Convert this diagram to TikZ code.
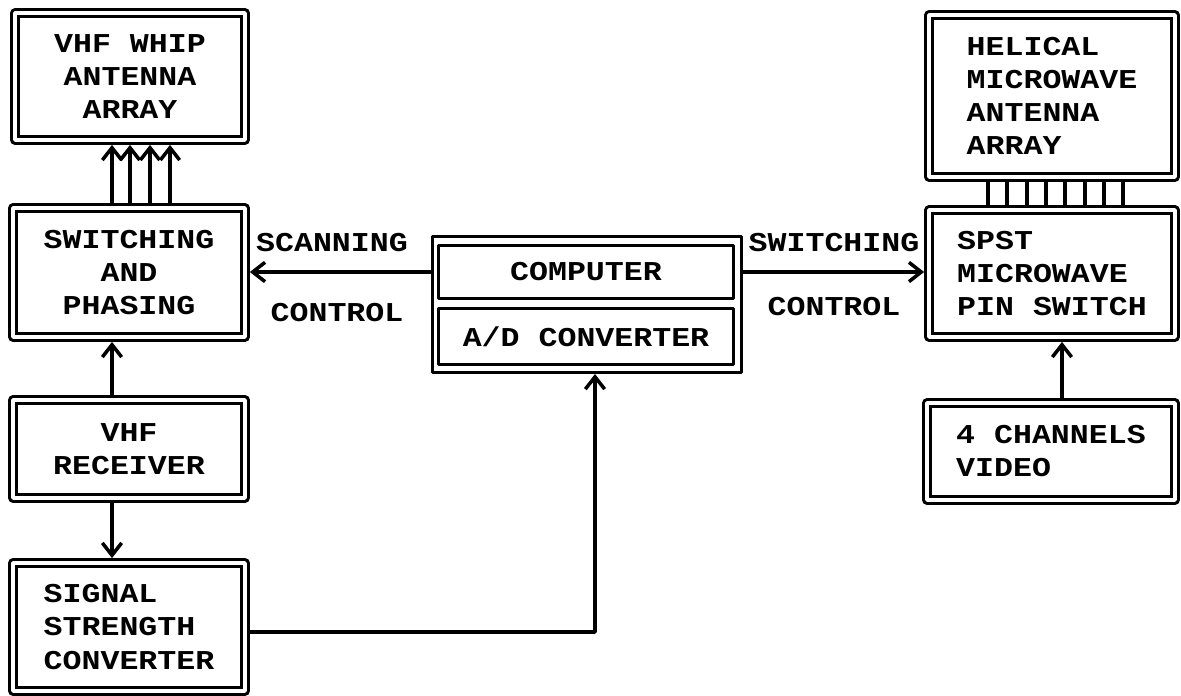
\documentclass[tikz,border=0pt]{standalone}
\usepackage{fontspec}
\setmonofont[FakeStretch=1.16]{Liberation Mono}
\usetikzlibrary{arrows.meta}
\tikzset{
  every picture/.style={line join=round, >={Straight Barb[length=7pt,width=11pt]}},
  every node/.style={font=\ttfamily\bfseries\fontsize{15.5}{18.8}\selectfont},
  box/.style={draw, double, line width=1.8pt, double distance=2pt, inner sep=0pt, outer sep=2.8pt, align=center},
  leftbox/.style={box, align=left},
  plainbox/.style={draw, line width=1.9pt, inner sep=0pt},
  conn/.style={line width=2pt},
}

\begin{document}
\begin{tikzpicture}[x=0.02cm,y=-0.02cm]
\useasboundingbox (0,0) rectangle (1181,696);
% left column
\node[box,minimum width=4.6cm,minimum height=2.54cm] (whip) at (130,76.5) {VHF WHIP\\ANTENNA\\ARRAY};
\node[box,minimum width=4.64cm,minimum height=2.58cm] (switching) at (129,272.5) {SWITCHING\\AND\\PHASING};
\node[box,minimum width=4.64cm,minimum height=1.96cm] (receiver) at (129,449) {VHF\\RECEIVER};
\node[leftbox,minimum width=4.64cm,minimum height=2.56cm] (signal) at (129,627) {SIGNAL\\STRENGTH\\CONVERTER};
% computer
\node[plainbox,minimum width=6.18cm,minimum height=2.72cm] (computer) at (587,304.5) {};
\node[plainbox,minimum width=5.9cm,minimum height=1.06cm] (cpu) at (586,272) {COMPUTER};
\node[plainbox,minimum width=5.9cm,minimum height=1.12cm] (adc) at (586,336.5) {A/D CONVERTER};
\coordinate (adin) at (595,374);
% right column
\node[leftbox,minimum width=4.92cm,minimum height=3.24cm] (helical) at (1052,96) {HELICAL\\MICROWAVE\\ANTENNA\\ARRAY};
\node[leftbox,minimum width=4.92cm,minimum height=2.54cm] (spst) at (1052,273.5) {SPST\\MICROWAVE\\PIN SWITCH};
\node[leftbox,minimum width=4.96cm,minimum height=1.94cm] (video) at (1051,451.5) {4 CHANNELS\\VIDEO};
% labels
\node (scanlbl) at (332,243) {SCANNING};
\node (scanctl) at (337,313) {CONTROL};
\node (switchlbl) at (834,243) {SWITCHING};
\node (switchctl) at (834,307) {CONTROL};
% connectors
\foreach \x in {112,130,150,170}
  \draw[conn,->] (switching.north -| \x,0) -- (whip.south -| \x,0);
\draw[conn,->] (receiver.north -| 112,0) -- (switching.south -| 112,0);
\draw[conn,->] (receiver.south -| 112,0) -- (signal.north -| 112,0);
\draw[conn,->] (signal.east) ++(0,5) -| (adin);
\draw[conn,->] (computer.west |- cpu) -- (switching.east |- cpu);
\draw[conn,->] (computer.east |- cpu) -- (spst.west |- cpu);
\draw[conn,->] (video.north -| 1062,0) -- (spst.south -| 1062,0);
\foreach \x in {988,1007,1027,1046,1065,1085,1104,1123}
  \draw[conn] (helical.south -| \x,0) -- (spst.north -| \x,0);
\end{tikzpicture}
\end{document}
